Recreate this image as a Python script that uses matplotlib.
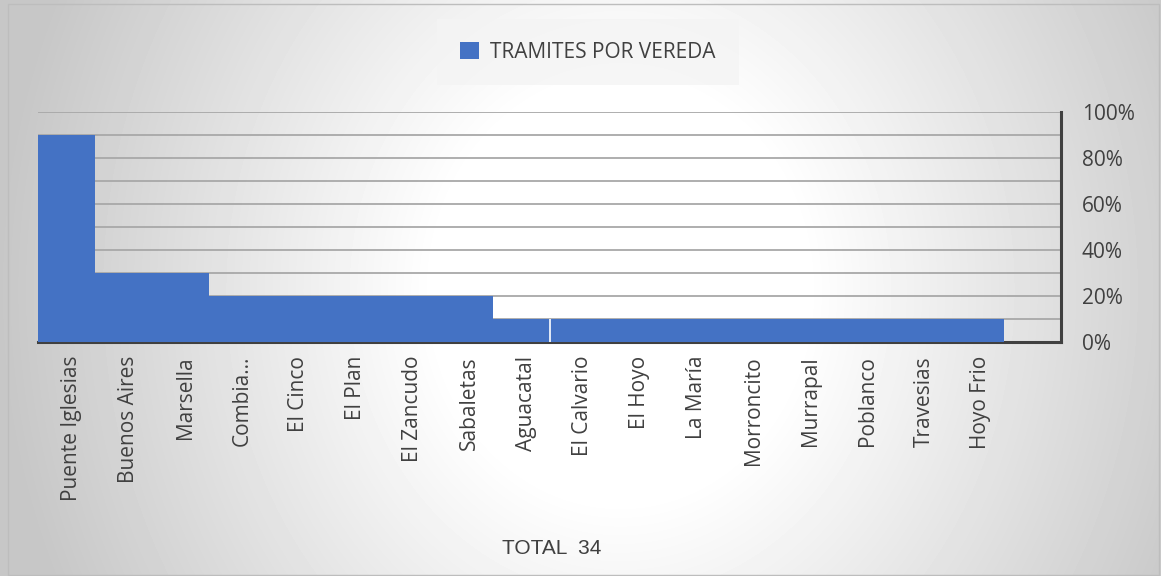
import numpy as np
import matplotlib
matplotlib.use('Agg')
import matplotlib.pyplot as plt
import matplotlib.transforms as mtransforms
from matplotlib.patches import Rectangle
from matplotlib.ticker import MultipleLocator, PercentFormatter

veredas = ['Puente Iglesias', 'Buenos Aires', 'Marsella', 'Combia...', 'El Cinco',
           'El Plan', 'El Zancudo', 'Sabaletas', 'Aguacatal', 'El Calvario',
           'El Hoyo', 'La María', 'Morroncito', 'Murrapal', 'Poblanco',
           'Travesias', 'Hoyo Frio', '']
tramites = [0.9, 0.3, 0.3, 0.2, 0.2, 0.2, 0.2, 0.2, 0.1, 0.1,
            0.1, 0.1, 0.1, 0.1, 0.1, 0.1, 0.1, 0.0]
serie = 'TRAMITES POR VEREDA'
total_txt = 'TOTAL  34'

blue = '#4472C4'
dark = '#404040'

fig = plt.figure(figsize=(11.61, 5.76), dpi=100)

# radial grey background
bg = fig.add_axes([0, 0, 1, 1], zorder=-10)
yy, xx = np.mgrid[0:576, 0:1161]
d = np.sqrt(((xx - 620) / 620.0) ** 2 + ((yy - 290) / 700.0) ** 2)
shade = 1.0 - 0.22 * np.clip((d - 0.3) / 0.7, 0, 1)
bg.imshow(shade, cmap='gray', vmin=0, vmax=1, aspect='auto',
          extent=[0, 1161, 576, 0], interpolation='bilinear')
bg.add_patch(Rectangle((8, 4), 1151, 571, fill=False, edgecolor='#bdbdbd', lw=1))
bg.set_xlim(0, 1161)
bg.set_ylim(576, 0)
bg.axis('off')

ax = fig.add_axes([38 / 1161, 1 - 342 / 576, (1061 - 38) / 1161, (342 - 112) / 576])
ax.patch.set_alpha(0)
x = np.arange(len(veredas))
ax.bar(x, tramites, width=1.0, color=blue, zorder=3, label=serie)
# thin white separation seen in the original between Aguacatal and El Calvario
ax.vlines(x[8] + 0.5, 0, tramites[8], color='white', lw=1.2, zorder=4)

ax.set_xlim(-0.5, len(veredas) - 0.5)
ax.set_ylim(0, 1)
ax.yaxis.tick_right()
ax.yaxis.set_major_locator(MultipleLocator(0.2))
ax.yaxis.set_minor_locator(MultipleLocator(0.1))
ax.yaxis.set_major_formatter(PercentFormatter(1.0, decimals=0))
ax.grid(axis='y', which='both', color='#a8a8a8', lw=1.3, zorder=0)
ax.tick_params(axis='y', which='both', length=0, pad=15, labelsize=15,
               labelcolor=dark, labelfontfamily='Open Sans')
ax.set_xticks(x)
ax.set_xticklabels(veredas, rotation=90, fontsize=15, color=dark,
                   family='Open Sans')
ax.tick_params(axis='x', length=0, pad=10)
shift = mtransforms.ScaledTranslation(5 / 100, 0, fig.dpi_scale_trans)
for lab in ax.get_xticklabels():
    lab.set_transform(lab.get_transform() + shift)

# top (100%) gridline is lighter in the original
fig.canvas.draw()
ax.yaxis.get_gridlines()[-1].set_color('#d4d4d4')

for s in ['top', 'left']:
    ax.spines[s].set_visible(False)
ax.spines['bottom'].set_color(dark)
ax.spines['bottom'].set_linewidth(2.2)
ax.spines['right'].set_color(dark)
ax.spines['right'].set_linewidth(2.2)

leg = fig.legend(loc='center', bbox_to_anchor=(588 / 1161, 1 - 52 / 576),
                 frameon=True, fancybox=False, borderpad=1.1, handlelength=0.9,
                 handleheight=0.9, handletextpad=0.55,
                 prop={'family': 'Open Sans', 'size': 15})
leg.get_frame().set_facecolor('#f4f4f4')
leg.get_frame().set_edgecolor('none')
for t in leg.get_texts():
    t.set_color(dark)

fig.text(552 / 1161, 1 - 548 / 576, total_txt, ha='center', va='center',
         fontsize=15, color=dark, family=['Liberation Sans', 'DejaVu Sans'])

fig.savefig('out.png', dpi=100)
